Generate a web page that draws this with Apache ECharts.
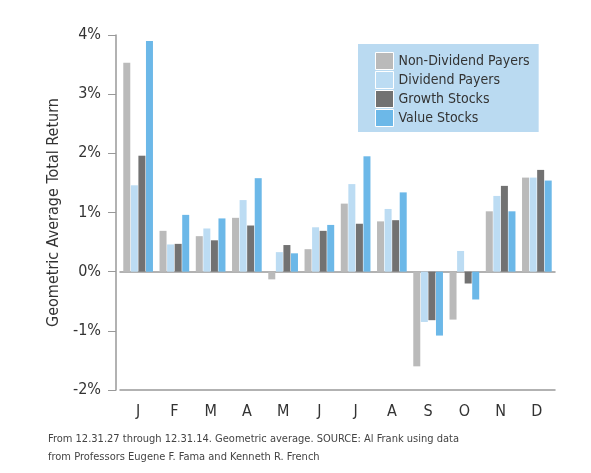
<!DOCTYPE html>
<html><head><meta charset="utf-8">
<script src="https://cdn.jsdelivr.net/npm/echarts@6/dist/echarts.min.js"></script>
<style>html,body{margin:0;padding:0;background:#fff}#c{width:591px;height:473px}</style>
</head><body><div id="c"></div>
<script>
var months = ['J','F','M','A','M','J','J','A','S','O','N','D'];
var seriesNames = ['Non-Dividend Payers','Dividend Payers','Growth Stocks','Value Stocks'];
var nonDividend = [3.53, 0.69, 0.60, 0.91, -0.13, 0.38, 1.15, 0.85, -1.60, -0.81, 1.02, 1.59];
var dividend    = [1.46, 0.46, 0.73, 1.21, 0.33, 0.75, 1.48, 1.06, -0.85, 0.35, 1.28, 1.59];
var growth      = [1.96, 0.47, 0.53, 0.78, 0.45, 0.69, 0.81, 0.87, -0.82, -0.20, 1.45, 1.72];
var value       = [3.90, 0.96, 0.90, 1.58, 0.31, 0.79, 1.95, 1.34, -1.08, -0.47, 1.02, 1.54];
var yTicks = [-2, -1, 0, 1, 2, 3, 4];
var footer = 'From 12.31.27 through 12.31.14. Geometric average. SOURCE: Al Frank using data\nfrom Professors Eugene F. Fama and Kenneth R. French';

var colors = ['#bababa', '#bcdcf3', '#727272', '#6cb8e8'];
var FONT = '"DejaVu Sans Condensed", "Liberation Sans", Arial, sans-serif';
var chart = echarts.init(document.getElementById('c'));
var allData = [nonDividend, dividend, growth, value];
chart.setOption({
  animation: false,
  textStyle: {fontFamily: FONT},
  grid: {left: 120, right: 36, top: 35, bottom: 83},
  legend: {
    orient: 'vertical', left: 358, top: 44,
    backgroundColor: '#badaf1',
    padding: [8, 9, 5, 17],
    itemWidth: 18, itemHeight: 17, itemGap: 1,
    icon: 'rect',
    itemStyle: {borderColor: '#ffffff', borderWidth: 1},
    textStyle: {fontFamily: FONT, fontSize: 14, color: '#333'},
    data: seriesNames
  },
  xAxis: [{
    type: 'category', data: months, position: 'bottom',
    axisLine: {onZero: false, lineStyle: {color: '#999', width: 1.5}},
    axisTick: {show: false},
    axisLabel: {fontFamily: FONT, fontSize: 16, color: '#333', margin: 14}
  }, {
    type: 'category', data: months, position: 'top',
    axisLine: {onZero: true, lineStyle: {color: '#999', width: 1.5}},
    axisTick: {show: false}, axisLabel: {show: false}
  }],
  yAxis: {
    type: 'value', min: yTicks[0], max: yTicks[yTicks.length-1], interval: 1, offset: 4,
    axisLine: {show: true, lineStyle: {color: '#999', width: 1.5}},
    axisTick: {show: true, length: 8, lineStyle: {color: '#999'}},
    splitLine: {show: false},
    axisLabel: {fontFamily: FONT, fontSize: 16, color: '#333', margin: 15, formatter: '{value}%'},
    name: 'Geometric Average Total Return', nameLocation: 'middle', nameGap: 51,
    nameTextStyle: {fontFamily: FONT, fontSize: 16, color: '#333'}
  },
  series: seriesNames.map(function (n, i) {
    return {
      name: n, type: 'bar', data: allData[i], xAxisIndex: 0,
      barWidth: 7, barGap: '8%',
      itemStyle: {color: colors[i]}
    };
  }),
  graphic: [{
    type: 'text', left: 48, top: 430,
    style: {text: footer, font: '11px ' + FONT, fill: '#444', lineHeight: 18}
  }]
});
</script></body></html>
